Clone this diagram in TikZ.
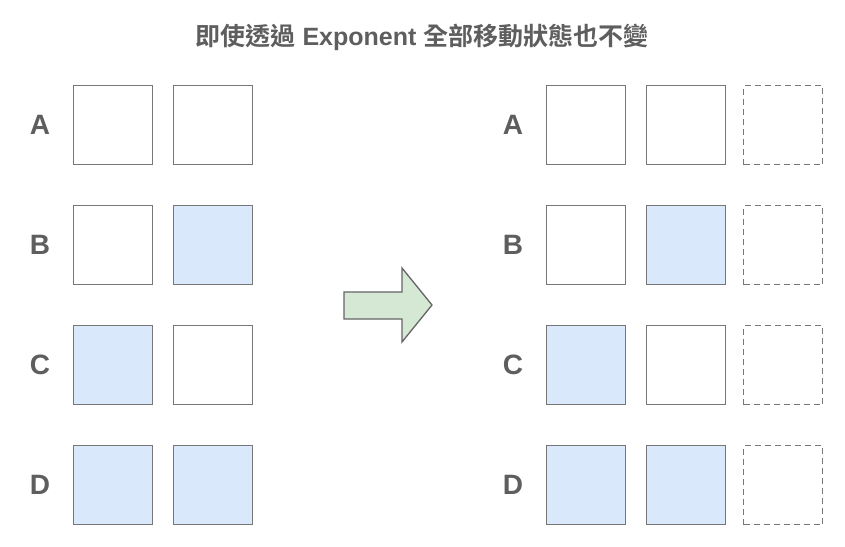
\documentclass[tikz,border=0pt]{standalone}
\usepackage{fontspec}
\setmainfont{Liberation Sans}
\newfontfamily\cjk{Noto Sans CJK TC}[BoldFont={Noto Sans CJK TC Bold}]
\definecolor{boxline}{HTML}{777777}
\definecolor{cellblue}{HTML}{DAE8FC}
\definecolor{arrowgreen}{HTML}{D5E8D4}
\definecolor{textgray}{HTML}{5E5E5E}
\begin{document}
\begin{tikzpicture}[x=1pt,y=-1pt,
  cell/.style={draw=boxline, line width=1.8pt, minimum size=79pt, inner sep=0pt},
  ghost/.style={draw=boxline, line width=1.5pt, dash pattern=on 6pt off 4pt, minimum size=79pt, inner sep=0pt},
  rowlabel/.style={text=textgray, font=\fontsize{28}{28}\selectfont\bfseries}]
\useasboundingbox[fill=white] (0,0) rectangle (845,546);
\node[text=textgray, font=\fontsize{25}{25}\selectfont\bfseries] (title) at (422,37)
  {{\cjk 即使透過} Exponent {\cjk 全部移動狀態也不變}};
% left side: before
\foreach \r/\y/\fa/\fb in {A/125/white/white, B/245/white/cellblue, C/365/cellblue/white, D/485/cellblue/cellblue}{
  \node[rowlabel] (l\r) at (40,\y) {\r};
  \node[cell, fill=\fa] (l\r1) at (113,\y) {};
  \node[cell, fill=\fb] (l\r2) at (213,\y) {};
}
% right side: after
\foreach \r/\y/\fa/\fb in {A/125/white/white, B/245/white/cellblue, C/365/cellblue/white, D/485/cellblue/cellblue}{
  \node[rowlabel] (r\r) at (513,\y) {\r};
  \node[cell, fill=\fa] (r\r1) at (586,\y) {};
  \node[cell, fill=\fb] (r\r2) at (686,\y) {};
  \node[ghost] (r\r3) at (783,\y) {};
}
% the big arrow
\draw[draw=boxline!85!black, line width=1.3pt, fill=arrowgreen, line join=miter]
  (344,292) -- (402,292) -- (402,268) -- (432,305) -- (402,342) -- (402,319) -- (344,319) -- cycle;
\end{tikzpicture}
\end{document}
